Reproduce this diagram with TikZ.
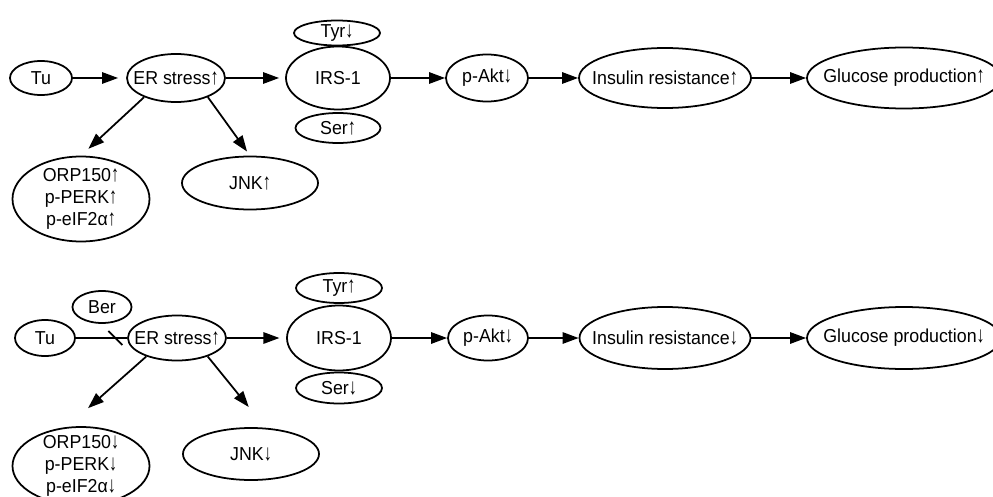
\documentclass[tikz,border=0pt]{standalone}
\usepackage{fontspec}
\setmainfont{Liberation Sans}[FakeStretch=0.95]
\usetikzlibrary{shapes.geometric,arrows.meta}
\newcommand\upar{\scalebox{0.9}[1.2]{↑}}
\newcommand\dnar{\scalebox{0.9}[1.2]{↓}}
\begin{document}
\begin{tikzpicture}[x=0.3mm,y=-0.3mm,
    blob/.style={draw,ellipse,line width=1.5pt,inner xsep=-6mm,inner ysep=-3.5mm,align=center,
      font=\fontsize{16pt}{18.5pt}\selectfont},
    arr/.style={line width=1.5pt,-{Triangle[length=4.8mm,width=3.4mm]}},
    plain/.style={line width=1.5pt}]
  \useasboundingbox (0,0) rectangle (993,497);
  \node[blob,minimum width=18.6mm,minimum height=10.2mm] (tuA) at (41,78) {Tu};
  \node[blob,minimum width=29.4mm,minimum height=14.4mm] (erA) at (176,78) {ER stress\upar};
  \node[blob,minimum width=31.2mm,minimum height=18.9mm] (irsA) at (338,78) {IRS-1};
  \node[blob,minimum width=25.8mm,minimum height=7.5mm] (tyrA) at (337,33) {Tyr\dnar};
  \node[blob,minimum width=25.5mm,minimum height=9mm] (serA) at (338,128) {Ser\upar};
  \node[blob,minimum width=41.1mm,minimum height=25.5mm] (orpA) at (81,199) {ORP150\upar\\p-PERK\upar\\p-eIF2α\upar};
  \node[blob,minimum width=40.8mm,minimum height=15.9mm] (jnkA) at (250,183) {JNK\upar};
  \node[blob,minimum width=24.6mm,minimum height=14.1mm] (aktA) at (487,78) {p-Akt\dnar};
  \node[blob,minimum width=51.6mm,minimum height=18mm] (insA) at (665,78) {Insulin resistance\upar};
  \node[blob,minimum width=58.2mm,minimum height=18.3mm] (gluA) at (904,78) {Glucose production\upar};
  \draw[arr,shorten >=2.4mm] (tuA) -- (erA);
  \draw[arr,shorten >=1.8mm] (erA) -- (irsA);
  \draw[arr] (irsA) -- (aktA);
  \draw[arr] (aktA) -- (insA);
  \draw[arr] (insA) -- (gluA);
  \draw[arr,shorten >=3mm] (erA.211) -- (orpA.north);
  \draw[arr,shorten >=1.5mm] (erA.-31) -- (jnkA.north);

  \node[blob,minimum width=18mm,minimum height=10.8mm] (tuB) at (45,338) {Tu};
  \node[blob,minimum width=17.7mm,minimum height=9.6mm] (berB) at (102,307) {Ber};
  \node[blob,minimum width=29.4mm,minimum height=13.5mm] (erB) at (177,338) {ER stress\upar};
  \node[blob,minimum width=31.2mm,minimum height=19.5mm] (irsB) at (339,338) {IRS-1};
  \node[blob,minimum width=25.8mm,minimum height=9mm] (tyrB) at (339,288) {Tyr\upar};
  \node[blob,minimum width=25.8mm,minimum height=9.3mm] (serB) at (339,388) {Ser\dnar};
  \node[blob,minimum width=41.1mm,minimum height=23.4mm] (orpB) at (81,466) {ORP150\dnar\\p-PERK\dnar\\p-eIF2α\dnar};
  \node[blob,minimum width=40.8mm,minimum height=15.6mm] (jnkB) at (251,454) {JNK\dnar};
  \node[blob,minimum width=24mm,minimum height=13.5mm] (aktB) at (488,338) {p-Akt\dnar};
  \node[blob,minimum width=51.3mm,minimum height=18.6mm] (insB) at (665,338) {Insulin resistance\dnar};
  \node[blob,minimum width=58.2mm,minimum height=18.6mm] (gluB) at (904,338) {Glucose production\dnar};
  \draw[plain] (tuB) -- coordinate[pos=0.77] (cut) (erB);
  \draw[plain] ([shift={(-7,-7)}]cut) -- ([shift={(7,7)}]cut);
  \draw[arr,shorten >=2mm] (erB) -- (irsB);
  \draw[arr] (irsB) -- (aktB);
  \draw[arr] (aktB) -- (insB);
  \draw[arr] (insB) -- (gluB);
  \draw[arr,shorten >=8.5mm] (erB.211) -- (orpB.110);
  \draw[arr,shorten >=8mm] (erB.-31) -- (jnkB.61);
\end{tikzpicture}
\end{document}
